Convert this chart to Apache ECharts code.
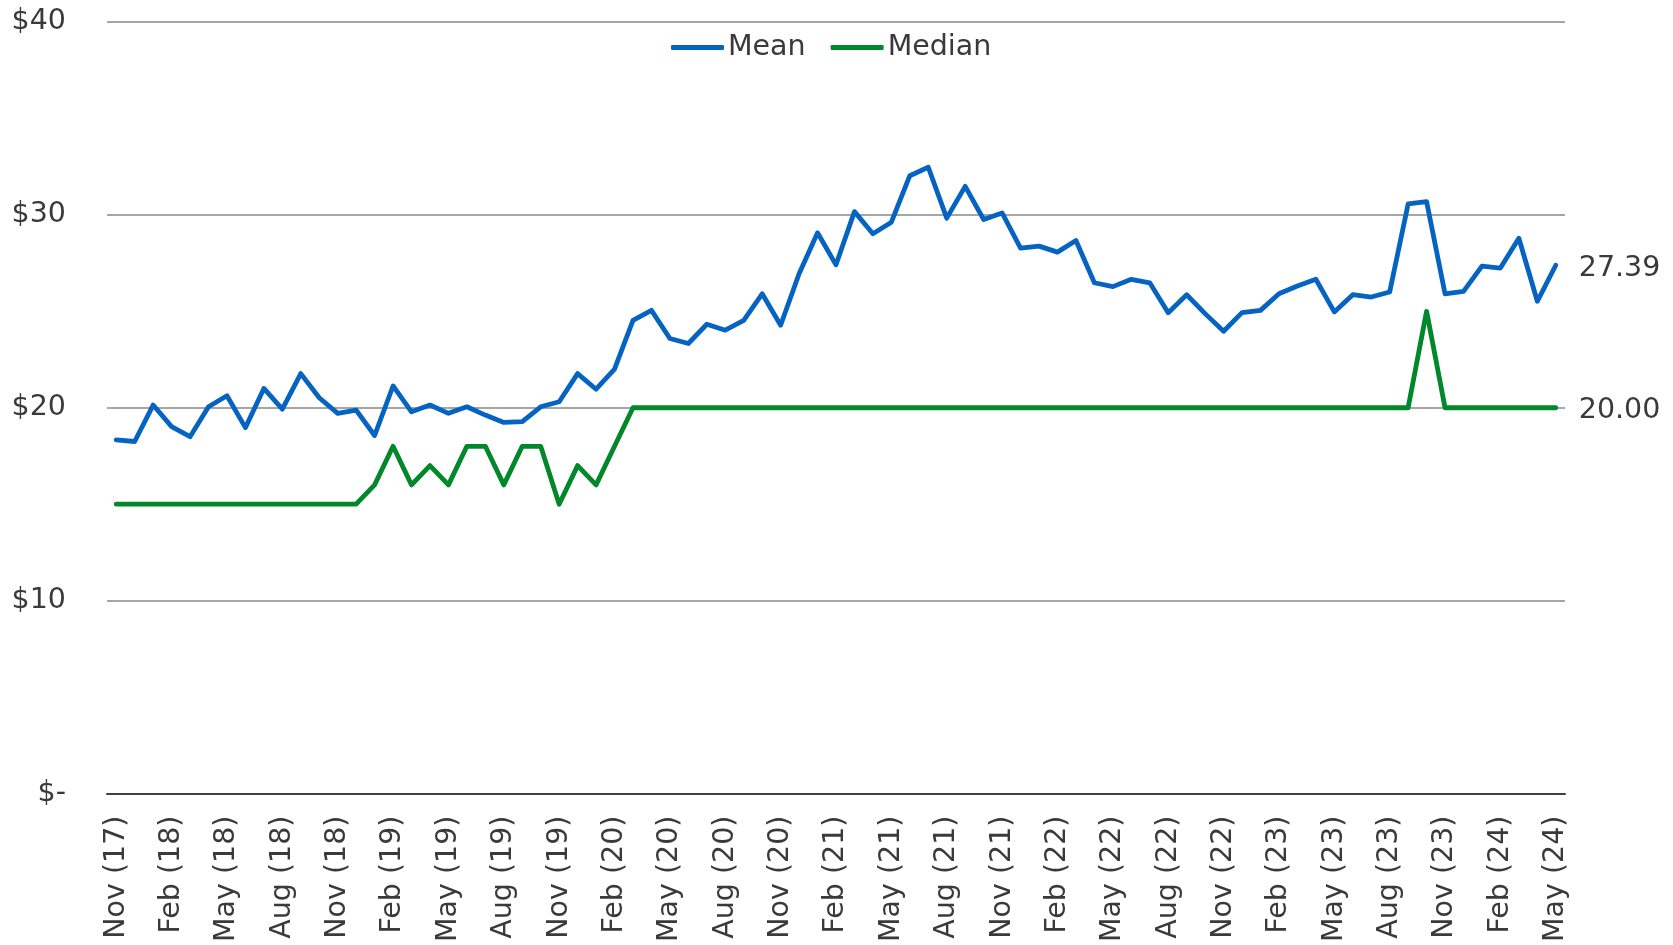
<!DOCTYPE html>
<html>
<head>
<meta charset="utf-8">
<script src="https://cdn.jsdelivr.net/npm/echarts@6/dist/echarts.min.js"></script>
<style>
  html, body { margin: 0; padding: 0; background: #fff; }
  #chart { width: 1673px; height: 945px; }
</style>
</head>
<body>
<div id="chart"></div>
<script>
const months = [
  'Nov (17)', 'Dec (17)',
  'Jan (18)', 'Feb (18)', 'Mar (18)', 'Apr (18)', 'May (18)', 'Jun (18)', 'Jul (18)', 'Aug (18)', 'Sep (18)', 'Oct (18)', 'Nov (18)', 'Dec (18)',
  'Jan (19)', 'Feb (19)', 'Mar (19)', 'Apr (19)', 'May (19)', 'Jun (19)', 'Jul (19)', 'Aug (19)', 'Sep (19)', 'Oct (19)', 'Nov (19)', 'Dec (19)',
  'Jan (20)', 'Feb (20)', 'Mar (20)', 'Apr (20)', 'May (20)', 'Jun (20)', 'Jul (20)', 'Aug (20)', 'Sep (20)', 'Oct (20)', 'Nov (20)', 'Dec (20)',
  'Jan (21)', 'Feb (21)', 'Mar (21)', 'Apr (21)', 'May (21)', 'Jun (21)', 'Jul (21)', 'Aug (21)', 'Sep (21)', 'Oct (21)', 'Nov (21)', 'Dec (21)',
  'Jan (22)', 'Feb (22)', 'Mar (22)', 'Apr (22)', 'May (22)', 'Jun (22)', 'Jul (22)', 'Aug (22)', 'Sep (22)', 'Oct (22)', 'Nov (22)', 'Dec (22)',
  'Jan (23)', 'Feb (23)', 'Mar (23)', 'Apr (23)', 'May (23)', 'Jun (23)', 'Jul (23)', 'Aug (23)', 'Sep (23)', 'Oct (23)', 'Nov (23)', 'Dec (23)',
  'Jan (24)', 'Feb (24)', 'Mar (24)', 'Apr (24)', 'May (24)'
]

const mean = [
  18.33, 18.25,
  20.14, 19.02, 18.50, 20.05, 20.62, 18.97, 21.00, 19.93, 21.77, 20.52, 19.71, 19.88,
  18.56, 21.13, 19.79, 20.14, 19.71, 20.05, 19.62, 19.24, 19.28, 20.05, 20.31, 21.77,
  20.96, 22.00, 24.53, 25.05, 23.59, 23.33, 24.33, 24.02, 24.53, 25.91, 24.28, 26.95,
  29.07, 27.41, 30.17, 29.02, 29.62, 32.03, 32.47, 29.83, 31.48, 29.76, 30.10, 28.28,
  28.38, 28.07, 28.67, 26.48, 26.28, 26.66, 26.48, 24.93, 25.86, 24.88, 23.97, 24.93,
  25.05, 25.91, 26.31, 26.66, 24.97, 25.86, 25.74, 26.00, 30.57, 30.69, 25.91, 26.03,
  27.34, 27.24, 28.79, 25.52, 27.39
]

const median = [
  15, 15,
  15, 15, 15, 15, 15, 15, 15, 15, 15, 15, 15, 15,
  16, 18, 16, 17, 16, 18, 18, 16, 18, 18, 15, 17,
  16, 18, 20, 20, 20, 20, 20, 20, 20, 20, 20, 20,
  20, 20, 20, 20, 20, 20, 20, 20, 20, 20, 20, 20,
  20, 20, 20, 20, 20, 20, 20, 20, 20, 20, 20, 20,
  20, 20, 20, 20, 20, 20, 20, 20, 20, 25, 20, 20,
  20, 20, 20, 20, 20
]

const FONT = 'DejaVu Sans'
const TEXT = '#3a3a3a'
const BLUE = '#0563C1'
const GREEN = '#00882B'
const SIZE = 28.5

const chart = echarts.init(document.getElementById('chart'))

const lineSeries = (name, data, color) => ({
  name,
  type: 'line',
  data,
  symbol: 'none',
  lineStyle: { width: 4.8, color, join: 'round', cap: 'round' },
  itemStyle: { color },
  endLabel: {
    show: true,
    distance: 23,
    offset: [0, 3],
    color: TEXT,
    fontFamily: FONT,
    fontSize: SIZE,
    formatter: (p) => Number(p.value).toFixed(2),
  },
  animation: false,
})

chart.setOption({
  animation: false,
  textStyle: { fontFamily: FONT },
  legend: {
    data: ['Mean', 'Median'],
    top: 33,
    left: 671,
    padding: 0,
    icon: 'roundRect',
    itemWidth: 53,
    itemHeight: 5,
    itemGap: 25,
    textStyle: { color: TEXT, fontSize: SIZE, fontFamily: FONT, padding: [0, 0, 0, -1] },
  },
  grid: { left: 107, right: 108, top: 22, bottom: 149, containLabel: false },
  xAxis: {
    type: 'category',
    data: months,
    boundaryGap: true,
    axisLine: { lineStyle: { color: '#404040', width: 2 } },
    axisTick: { show: false },
    axisLabel: {
      interval: 2,
      rotate: 90,
      margin: 22,
      color: TEXT,
      fontFamily: FONT,
      fontSize: SIZE,
    },
  },
  yAxis: {
    type: 'value',
    min: 0,
    max: 40,
    interval: 10,
    axisLine: { show: false },
    axisTick: { show: false },
    splitLine: { lineStyle: { color: '#A6A6A6', width: 2 } },
    axisLabel: {
      margin: 41,
      color: TEXT,
      fontFamily: FONT,
      fontSize: SIZE,
      formatter: (v) => (v === 0 ? '$-' : '$' + v),
    },
  },
  series: [
    lineSeries('Mean', mean, BLUE),
    lineSeries('Median', median, GREEN),
  ],
})
</script>
</body>
</html>
